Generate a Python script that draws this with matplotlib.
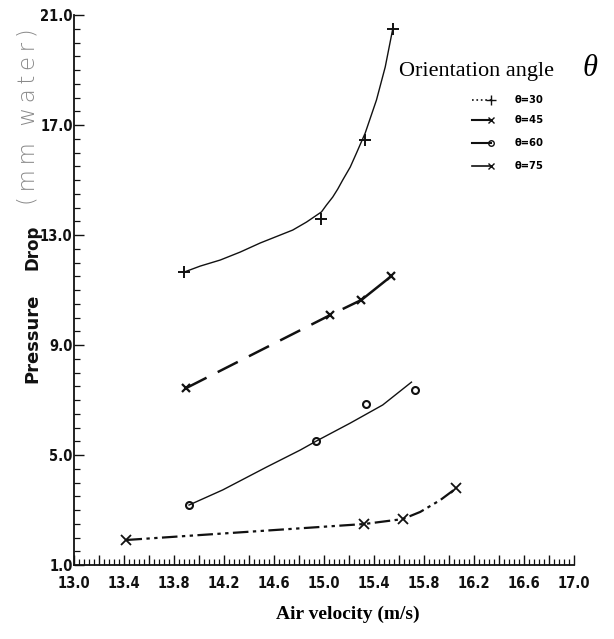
import numpy as np
import matplotlib.pyplot as plt
from matplotlib.lines import Line2D
from matplotlib.ticker import MultipleLocator

# measured points (air velocity m/s, pressure drop mm water)
v30 = [13.88, 14.98, 15.33, 15.55]
p30 = [11.65, 13.58, 16.45, 20.49]
v45 = [13.90, 15.05, 15.30, 15.54]
p45 = [7.44, 10.09, 10.64, 11.51]
v60 = [13.92, 14.94, 15.34, 15.73]
p60 = [3.18, 5.51, 6.85, 7.36]
v75 = [13.42, 15.32, 15.63, 16.06]
p75 = [1.91, 2.49, 2.67, 3.80]

# hand-drawn fitted curves
c30_v = [13.88, 14.01, 14.17, 14.33, 14.49, 14.75, 14.86, 14.98, 15.02, 15.07,
         15.11, 15.15, 15.21, 15.26, 15.33, 15.42, 15.49, 15.55]
c30_p = [11.65, 11.87, 12.09, 12.38, 12.71, 13.18, 13.47, 13.84, 14.09, 14.38,
         14.67, 15.00, 15.47, 15.98, 16.71, 17.91, 19.11, 20.49]
c60_v = [13.92, 14.19, 14.54, 14.81, 14.94, 15.21, 15.47, 15.70]
c60_p = [3.18, 3.73, 4.56, 5.18, 5.51, 6.16, 6.82, 7.65]
c75_v = [13.42, 15.32, 15.63, 15.77, 15.93, 16.06]
c75_p = [1.91, 2.49, 2.67, 2.93, 3.36, 3.80]

xticks = np.round(np.arange(13.0, 17.01, 0.2), 1)
yticks = [1.0, 5.0, 9.0, 13.0, 17.0, 21.0]
legend_labels = ['θ=30', 'θ=45', 'θ=60', 'θ=75']

ink = '#111111'
fig = plt.figure(figsize=(6.14, 6.39), dpi=100)
ax = fig.add_axes([0.1205, 0.1158, 0.8143, 0.8607])

# theta = 30
ax.plot(c30_v, c30_p, '-', color=ink, lw=1.0)
ax.plot(v30, p30, '+', color=ink, ms=8, mew=1.4)
# theta = 45 (long dashes, last segment solid)
ax.plot(v45[:3], p45[:3], color=ink, lw=1.8, dashes=(9, 5))
ax.plot(v45[2:], p45[2:], '-', color=ink, lw=1.8)
ax.plot(v45, p45, 'x', color=ink, ms=6, mew=1.6)
# theta = 60
ax.plot(c60_v, c60_p, '-', color=ink, lw=1.0)
ax.plot(v60, p60, 'o', color=ink, mfc='none', ms=5, mew=1.5)
# theta = 75 (dash-dot-dot)
ax.plot(c75_v, c75_p, color=ink, lw=1.6, dashes=(7, 2, 1.5, 2, 1.5, 2))
ax.plot(v75, p75, 'x', color=ink, ms=7, mew=1.3)

ax.set_xlim(13.0, 17.0)
ax.set_ylim(1.0, 21.0)
ax.spines['top'].set_visible(False)
ax.spines['right'].set_visible(False)
for s in ('left', 'bottom'):
    ax.spines[s].set_linewidth(1.3)
    ax.spines[s].set_color(ink)

ax.set_xticks(xticks)
ax.set_yticks(yticks)
ax.xaxis.set_minor_locator(MultipleLocator(0.04))
ax.yaxis.set_minor_locator(MultipleLocator(0.5))
ax.tick_params(which='major', direction='in', length=7, width=1.0, colors=ink, pad=8)
ax.tick_params(which='minor', direction='in', length=4, width=0.9, colors=ink)
ax.tick_params(axis='y', pad=1)
tick_font = dict(family='DejaVu Sans', weight='bold', stretch='condensed', size=10.5)
ax.set_xticklabels([f'{t:.1f}' if i % 2 == 0 else '' for i, t in enumerate(xticks)],
                   fontdict=tick_font)
ax.set_yticklabels([f'{t:.1f}' for t in yticks], fontdict=tick_font)

# axis titles
fig.text(0.567, 0.038, 'Air velocity (m/s)', family='Liberation Serif',
         weight='bold', size=14, ha='center', va='center')
fig.text(0.053, 0.471, 'Pressure', rotation=90, family='DejaVu Sans',
         weight='bold', size=13, ha='center', va='center', color=ink)
fig.text(0.053, 0.6135, 'Drop', rotation=90, family='DejaVu Sans',
         weight='bold', size=12, ha='center', va='center', color=ink)
fig.text(0.046, 0.818, '\u2009'.join('(mm water)'), rotation=90, family='DejaVu Sans',
         weight='light', size=16.5, ha='center', va='center', color='#8a8a8a')

# legend
fig.text(0.650, 0.888, 'Orientation angle', family='Liberation Serif', size=16,
         ha='left', va='center')
fig.text(0.948, 0.893, 'θ', family='Liberation Serif', style='italic', size=22,
         ha='left', va='center')
leg_y = [0.843, 0.812, 0.776, 0.740]
styles = [dict(ls=':', lw=1.2, marker='+', ms=7),
          dict(ls='-', lw=1.5, marker='x', ms=5),
          dict(ls='-', lw=1.5, marker='o', ms=4, mfc='none'),
          dict(ls='-', lw=1.2, marker='x', ms=5)]
for yy, lab, st in zip(leg_y, legend_labels, styles):
    fig.add_artist(Line2D([0.768, 0.800], [yy, yy], color=ink, transform=fig.transFigure,
                          markevery=[1], **st))
    fig.text(0.838, yy, lab, family='DejaVu Sans', weight='bold', stretch='condensed',
             size=8, ha='left', va='center')

fig.savefig('out.png', dpi=100)
